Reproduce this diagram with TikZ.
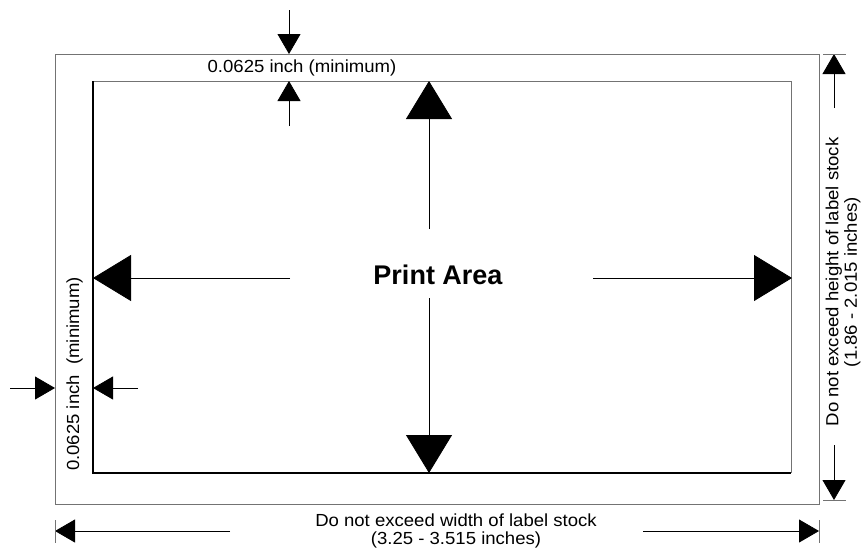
\documentclass[tikz,border=0pt]{standalone}
\usepackage{fontspec}
\setmainfont{Liberation Sans}[FakeStretch=1.06]
\newfontfamily\plainsans{Liberation Sans}
\usetikzlibrary{arrows.meta}
\begin{document}
\begin{tikzpicture}[x=1pt,y=-1pt,
  box/.style={draw=black!55, line width=1pt},
  edge/.style={draw=black, line width=1.6pt},
  dimline/.style={draw=black, line width=0.8pt},
  sarrow/.style={dimline, -{Triangle[length=20pt,width=23pt]}},
  barrow/.style={dimline, -{Triangle[length=38pt,width=46pt]}},
  tickmark/.style={draw=black!55, line width=1pt},
  lbl/.style={font=\fontsize{17.5}{18.5}\selectfont, inner sep=0pt, align=center},
]
\useasboundingbox (0,0) rectangle (866,555);
% label stock and print area
\coordinate (oTL) at (55,54);   \coordinate (oBR) at (819,504);
\coordinate (iTL) at (93,81);   \coordinate (iTR) at (791,81);
\coordinate (iBL) at (93,473);  \coordinate (iBR) at (791,473);
\draw[box] (oTL) rectangle (oBR);
\draw[box] (iTL) -- (iTR) -- (iBR);
\draw[edge] (iTL) -- (iBL) -- (iBR);
% texts
\node[lbl] (toplbl) at (302,68) {0.0625 inch (minimum)};
\node[lbl, rotate=90] (leftlbl) at (74.5,374) {0.0625 inch\ \ (minimum)};
\node[lbl, rotate=90] (rightlbl) at (843,282) {Do not exceed height of label stock\\(1.86 - 2.015 inches)};
\node[lbl] (botlbl) at (456,531) {Do not exceed width of label stock\\(3.25 - 3.515 inches)};
\node[font=\plainsans\bfseries\fontsize{27}{30}\selectfont, inner sep=0pt] (pa) at (438,275) {Print Area};
% top margin dimension
\coordinate (ta0) at (289,10);  \coordinate (ta1) at (289,54);
\coordinate (tb0) at (289,126); \coordinate (tb1) at (289,81);
\draw[sarrow] (ta0) -- (ta1);
\draw[sarrow] (tb0) -- (tb1);
% left margin dimension
\coordinate (la0) at (10,388);  \coordinate (la1) at (55,388);
\coordinate (lb0) at (138,388); \coordinate (lb1) at (93,388);
\draw[sarrow] (la0) -- (la1);
\draw[sarrow] (lb0) -- (lb1);
% big print area arrows
\coordinate (up0) at (429,229);  \coordinate (up1) at (429,81);
\coordinate (dn0) at (429,298);  \coordinate (dn1) at (429,473);
\coordinate (lf0) at (290,278);  \coordinate (lf1) at (93,278);
\coordinate (rt0) at (593,278);  \coordinate (rt1) at (792,278);
\draw[barrow] (up0) -- (up1);
\draw[barrow] (dn0) -- (dn1);
\draw[barrow] (lf0) -- (lf1);
\draw[barrow] (rt0) -- (rt1);
% height of label stock
\coordinate (ha0) at (834,108); \coordinate (ha1) at (834,54);
\coordinate (hb0) at (834,445); \coordinate (hb1) at (834,500);
\draw[sarrow] (ha0) -- (ha1);
\draw[sarrow] (hb0) -- (hb1);
\draw[tickmark] (823,54) -- (846,54);
\draw[tickmark] (823,500) -- (846,500);
% width of label stock
\coordinate (wa0) at (230,531); \coordinate (wa1) at (55,531);
\coordinate (wb0) at (643,531); \coordinate (wb1) at (819,531);
\draw[sarrow] (wa0) -- (wa1);
\draw[sarrow] (wb0) -- (wb1);
\draw[tickmark] (55,520) -- (55,543);
\draw[tickmark] (819,520) -- (819,543);
\end{tikzpicture}
\end{document}
